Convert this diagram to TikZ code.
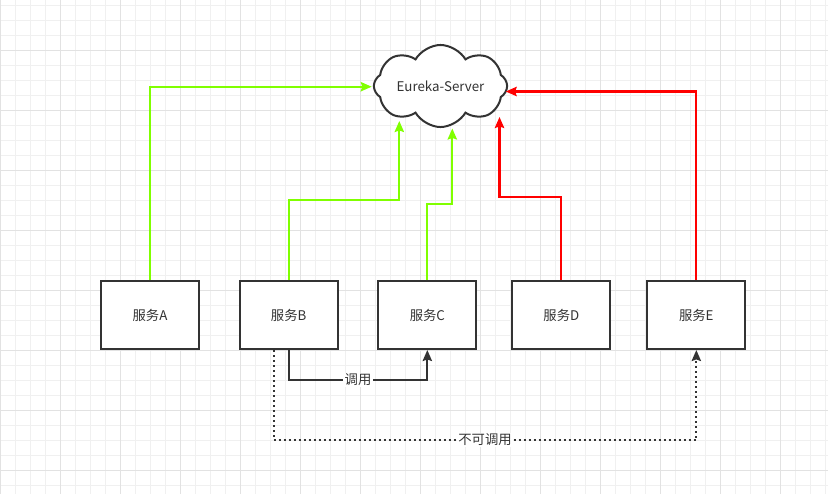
\documentclass[tikz,border=0pt]{standalone}
\usepackage{fontspec}
\setmainfont{Noto Sans CJK SC}
\usetikzlibrary{positioning,shapes.symbols,arrows.meta}

\definecolor{ink}{HTML}{333333}
\definecolor{okgreen}{HTML}{80FF00}
\definecolor{badred}{HTML}{FF0000}
\definecolor{gridlite}{HTML}{F0F0F0}
\definecolor{griddark}{HTML}{E2E2E2}

\tikzset{
	minorline/.style={draw=gridlite, line width=0.75pt},
	majorline/.style={draw=griddark, line width=0.75pt},
	service/.style={draw=ink, line width=1.5pt, fill=white, text=ink, inner sep=0pt,
		minimum width=73.5pt, minimum height=51pt, font=\fontsize{10pt}{12pt}\selectfont},
	registry/.style={cloud, cloud puffs=8, cloud puff arc=120, aspect=2.1, draw=ink,
		line width=1.5pt, fill=white, text=ink, inner sep=0pt,
		minimum width=100pt, minimum height=50pt, font=\fontsize{10pt}{12pt}\selectfont},
	tip/.style={-{Stealth[length=8.25pt,width=7pt,inset=1.2pt]}},
	oklink/.style={tip, draw=okgreen, line width=1.6pt},
	badlink/.style={tip, draw=badred, line width=1.6pt},
	calllink/.style={tip, draw=ink, line width=1.5pt},
	nocalllink/.style={calllink, dash pattern=on 1.5pt off 2.25pt},
	linklabel/.style={fill=white, text=ink, inner sep=1pt, font=\fontsize{10pt}{12pt}\selectfont}
}

\begin{document}
\begin{tikzpicture}[x=0.75pt, y=-0.75pt]
	% Background grid
	\fill[white] (0,0) rectangle (828,494);
	\useasboundingbox (0,0) rectangle (828,494);
	\foreach \gx in {0,15,...,825} \draw[minorline] (\gx,0) -- (\gx,494);
	\foreach \gy in {5,20,...,485} \draw[minorline] (0,\gy) -- (828,\gy);
	\foreach \gx in {0,60,...,780} \draw[majorline] (\gx,0) -- (\gx,494);
	\foreach \gy in {50,110,...,470} \draw[majorline] (0,\gy) -- (828,\gy);

	% Define nodes
	\node[service] (a) at (150,315) {服务A};
	\node[service, right=29pt of a] (b) {服务B};
	\node[service, right=29pt of b] (c) {服务C};
	\node[service, right=25.5pt of c] (d) {服务D};
	\node[service, right=26.25pt of d] (e) {服务E};
	\node[registry] (eureka) at (440.5,86) {Eureka-Server};

	% Arrow ends at the server
	\coordinate (toa) at (371.7,86.7);
	\coordinate (tob) at (399.3,121);
	\coordinate (toc) at (452.3,128.5);
	\coordinate (tod) at (499.5,117);
	\coordinate (toe) at (505.7,91.5);

	% Connect the nodes
	\draw[oklink] (a.north) |- (toa);
	\draw[oklink] (b.north) -- ++(0,-80) -| (tob);
	\draw[oklink] (c.north) -- ++(0,-76) -| (toc);
	\draw[badlink] (d.north) -- ++(0,-83) -| (tod);
	\draw[badlink] (e.north) |- (toe);

	\draw[calllink] (b.south) -- ++(0,30) -| node[linklabel, pos=0.25] {调用} (c.south);
	\draw[nocalllink] ([xshift=-11.25pt]b.south) -- ++(0,90) -| node[linklabel, pos=0.25] {不可调用} (e.south);
\end{tikzpicture}
\end{document}
